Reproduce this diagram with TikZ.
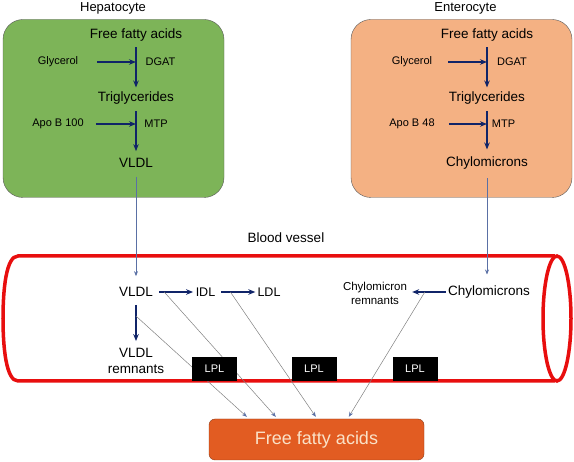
\documentclass[tikz,border=0pt]{standalone}
\usepackage{fontspec}
\setmainfont{Liberation Sans}
\usetikzlibrary{arrows.meta, calc}
\definecolor{livergreen}{RGB}{125, 180, 88}
\definecolor{gutorange}{RGB}{244, 177, 131}
\definecolor{pathnavy}{RGB}{16, 36, 104}
\definecolor{vesselred}{RGB}{232, 14, 14}
\definecolor{ffaorange}{RGB}{226, 92, 34}
\definecolor{ffaedge}{RGB}{140, 60, 25}
\definecolor{linkblue}{RGB}{90, 112, 165}

\begin{document}
\begin{tikzpicture}[x=1pt, y=-1pt, >=Stealth,
    big/.style={font=\fontsize{13.5}{16}\selectfont, inner sep=1pt},
    small/.style={font=\fontsize{11}{14}\selectfont, inner sep=1pt},
    cell/.style={draw=black!65, rounded corners=20pt, inner sep=0pt,
                 minimum width=221pt, minimum height=178pt},
    flow/.style={-{Stealth[length=7pt, width=5.5pt]}, pathnavy, line width=2.2pt},
    link/.style={-{Stealth[length=5pt, width=4pt]}, linkblue, line width=0.7pt},
    lipase/.style={-{Stealth[length=5pt, width=4pt, color=linkblue]}, gray, line width=0.5pt},
    vessel/.style={vesselred, line width=3.5pt},
    lplbox/.style={fill=black, text=white, font=\fontsize{11}{13}\selectfont,
                   minimum width=45pt, minimum height=24pt, inner sep=0pt}]
  \useasboundingbox (0,0) rectangle (574,462);

  % cells
  \node[big, font=\fontsize{13}{15}\selectfont] (hepT) at (113,8) {Hepatocyte};
  \node[big, font=\fontsize{13}{15}\selectfont] (entT) at (465.5,8) {Enterocyte};
  \node[cell, fill=livergreen] (hep) at (113.5,108.5) {};
  \node[cell, fill=gutorange]  (ent) at (461.5,108.5) {};

  \node[big]   (ffaH) at (136,35)  {Free fatty acids};
  \node[small] (glyH) at (58,62)   {Glycerol};
  \node[small] (dgatH) at (160.5,62) {DGAT};
  \node[big]   (tgH)  at (136,98)  {Triglycerides};
  \node[small] (apoH) at (58,124)  {Apo B 100};
  \node[small] (mtpH) at (156,124) {MTP};
  \node[big]   (vldlH) at (136,163) {VLDL};
  \draw[flow, shorten <=5pt, shorten >=3pt] (ffaH) -- (tgH);
  \draw[flow, shorten <=6pt, shorten >=6pt] (tgH) -- (vldlH);
  \draw[flow, shorten <=18pt] (glyH.east) -- (glyH.east -| ffaH.south);
  \draw[flow, shorten <=11pt] (apoH.east) -- (apoH.east -| ffaH.south);

  \node[big]   (ffaE) at (487,35)  {Free fatty acids};
  \node[small] (glyE) at (412,62)  {Glycerol};
  \node[small] (dgatE) at (512,62) {DGAT};
  \node[big]   (tgE)  at (487,98)  {Triglycerides};
  \node[small] (apoE) at (412,124) {Apo B 48};
  \node[small] (mtpE) at (503.5,124) {MTP};
  \node[big]   (chyE) at (487,163) {Chylomicrons};
  \draw[flow, shorten <=5pt, shorten >=3pt] (ffaE) -- (tgE);
  \draw[flow, shorten <=6pt, shorten >=6pt] (tgE) -- (chyE);
  \draw[flow, shorten <=15pt] (glyE.east) -- (glyE.east -| ffaE.south);
  \draw[flow, shorten <=13pt] (apoE.east) -- (apoE.east -| ffaE.south);

  % blood vessel
  \node[big] (bvT) at (286,238) {Blood vessel};
  \draw[vessel] (555,256) -- (18,256) .. controls (6,256) and (3,290) .. (3,318.5)
      .. controls (3,347) and (6,381) .. (18,381) -- (555,381);
  \draw[vessel] (557,318.5) ellipse [x radius=14, y radius=62.5];

  \node[big]   (vldlB) at (136,292) {VLDL};
  \node[small, font=\fontsize{12.5}{14}\selectfont] (idl) at (205.5,292) {IDL};
  \node[small, font=\fontsize{12.5}{14}\selectfont] (ldl) at (269,292) {LDL};
  \node[big, align=center] (remV) at (136,361) {VLDL\\remnants};
  \node[big]   (chyB) at (489,292) {Chylomicrons};
  \node[small, font=\fontsize{11.5}{14}\selectfont, align=center] (remC) at (375,293) {Chylomicron\\remnants};

  \draw[link, shorten <=8pt, shorten >=10pt] (vldlH) -- (vldlB);
  \draw[link, shorten <=8pt, shorten >=10pt] (chyE.south) -- (chyE.south |- chyB.north);

  \draw[flow, shorten <=7pt, shorten >=6pt] (vldlB) -- coordinate[pos=0.37] (g1) (remV);
  \draw[flow, shorten <=5pt, shorten >=1.5pt] (vldlB) -- coordinate[pos=0.25] (g2) (idl);
  \draw[flow, shorten <=5pt, shorten >=1pt] (idl) -- coordinate[pos=0.35] (g3) (ldl);
  \draw[flow, shorten <=1pt, shorten >=4pt] (chyB.west) -- coordinate[pos=0.57] (g4) (chyB.west -| remC.east);

  \node[draw=ffaedge, fill=ffaorange, rounded corners=6pt, text={rgb,255:red,250;green,226;blue,200},
        font=\fontsize{18}{20}\selectfont, minimum width=215pt, minimum height=41pt] (ffa) at (316.5,439.5) {Free fatty acids};

  \draw[lipase] (g1) -- ([xshift=38pt, yshift=2pt]ffa.north west);
  \draw[lipase] (g2) -- ([xshift=67pt, yshift=2pt]ffa.north west);
  \draw[lipase] (g3) -- ([xshift=107pt, yshift=2pt]ffa.north west);
  \draw[lipase] (g4) -- ([xshift=140pt, yshift=2pt]ffa.north west);

  \node[lplbox] (lpl1) at (214.5,369) {LPL};
  \node[lplbox] (lpl2) at (314,369) {LPL};
  \node[lplbox] (lpl3) at (415,369) {LPL};
\end{tikzpicture}
\end{document}
